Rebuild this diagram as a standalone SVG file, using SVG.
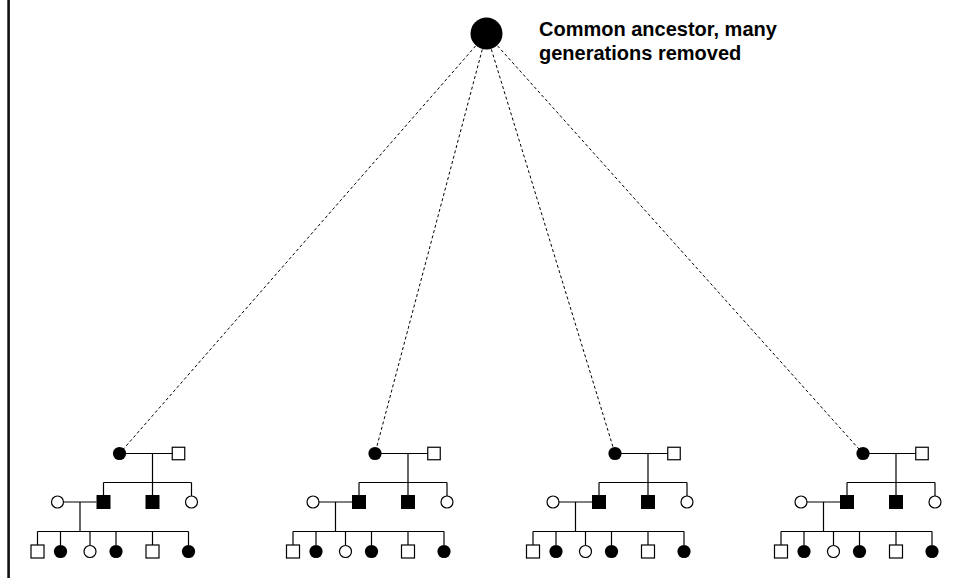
<svg xmlns="http://www.w3.org/2000/svg" width="954" height="578" viewBox="0 0 954 578">
<style>
.ln{stroke:#000;stroke-width:1.2;fill:none}
.dash{stroke:#000;stroke-width:1;fill:none;stroke-dasharray:3 2.5}
.fc{fill:#000}
.oc{fill:#fff;stroke:#000;stroke-width:1.2}
.fs{fill:#000}
.os{fill:#fff;stroke:#000;stroke-width:1.2}
.lbl{font-family:"Liberation Sans",Arial,sans-serif;font-weight:bold;font-size:20px;fill:#000}
</style>
<defs>
<g id="fam-lines">
<path class="ln" d="M0,453.5H53 M33,453.5V482.5 M-16,482.5H72 M-16,482.5V495 M33,482.5V495 M72,482.5V496 M-56,502H-23 M-39.5,502V531.5 M-82,531.5H69 M-82,531.5V545 M-59,531.5V545 M-29.5,531.5V545 M-3.5,531.5V545 M33,531.5V545 M69,531.5V545"/>
</g>
</defs>
<rect x="0" y="0" width="954" height="578" fill="#fff"/>
<line x1="8.6" y1="0" x2="8.6" y2="578" stroke="#111" stroke-width="2.6"/>
<g id="connectors">
<line class="dash" x1="486.5" y1="33.5" x2="119.5" y2="453.5"/>
<line class="dash" x1="486.5" y1="33.5" x2="375" y2="453.5"/>
<line class="dash" x1="486.5" y1="33.5" x2="615" y2="453.5"/>
<line class="dash" x1="486.5" y1="33.5" x2="863" y2="453.5"/>
<use href="#fam-lines" transform="translate(119.5,0)"/>
<use href="#fam-lines" transform="translate(375,0)"/>
<use href="#fam-lines" transform="translate(615,0)"/>
<use href="#fam-lines" transform="translate(863,0)"/>
</g>
<g id="ancestor"><circle class="fc" cx="486.5" cy="33.5" r="16"/></g>
<g id="ancestor-label">
<text class="lbl" x="539" y="36">Common ancestor, many</text>
<text class="lbl" x="539" y="60">generations removed</text>
</g>
<g id="family1" transform="translate(119.5,0)">
<g id="f1-g1-f"><circle class="fc" cx="0" cy="453.5" r="6.6"/></g>
<g id="f1-g1-m"><rect class="os" x="52.75" y="447.25" width="12.5" height="12.5"/></g>
<g id="f1-g2-spouse"><circle class="oc" cx="-62" cy="502" r="6"/></g>
<g id="f1-g2-m1"><rect class="fs" x="-23" y="495" width="14" height="14"/></g>
<g id="f1-g2-m2"><rect class="fs" x="26" y="495" width="14" height="14"/></g>
<g id="f1-g2-f"><circle class="oc" cx="72" cy="502" r="6"/></g>
<g id="f1-g3-1"><rect class="os" x="-88.5" y="545" width="13" height="13"/></g>
<g id="f1-g3-2"><circle class="fc" cx="-59" cy="551.5" r="6.6"/></g>
<g id="f1-g3-3"><circle class="oc" cx="-29.5" cy="551.5" r="6"/></g>
<g id="f1-g3-4"><circle class="fc" cx="-3.5" cy="551.5" r="6.6"/></g>
<g id="f1-g3-5"><rect class="os" x="26.5" y="545" width="13" height="13"/></g>
<g id="f1-g3-6"><circle class="fc" cx="69" cy="551.5" r="6.6"/></g>
</g>
<g id="family2" transform="translate(375,0)">
<g id="f2-g1-f"><circle class="fc" cx="0" cy="453.5" r="6.6"/></g>
<g id="f2-g1-m"><rect class="os" x="52.75" y="447.25" width="12.5" height="12.5"/></g>
<g id="f2-g2-spouse"><circle class="oc" cx="-62" cy="502" r="6"/></g>
<g id="f2-g2-m1"><rect class="fs" x="-23" y="495" width="14" height="14"/></g>
<g id="f2-g2-m2"><rect class="fs" x="26" y="495" width="14" height="14"/></g>
<g id="f2-g2-f"><circle class="oc" cx="72" cy="502" r="6"/></g>
<g id="f2-g3-1"><rect class="os" x="-88.5" y="545" width="13" height="13"/></g>
<g id="f2-g3-2"><circle class="fc" cx="-59" cy="551.5" r="6.6"/></g>
<g id="f2-g3-3"><circle class="oc" cx="-29.5" cy="551.5" r="6"/></g>
<g id="f2-g3-4"><circle class="fc" cx="-3.5" cy="551.5" r="6.6"/></g>
<g id="f2-g3-5"><rect class="os" x="26.5" y="545" width="13" height="13"/></g>
<g id="f2-g3-6"><circle class="fc" cx="69" cy="551.5" r="6.6"/></g>
</g>
<g id="family3" transform="translate(615,0)">
<g id="f3-g1-f"><circle class="fc" cx="0" cy="453.5" r="6.6"/></g>
<g id="f3-g1-m"><rect class="os" x="52.75" y="447.25" width="12.5" height="12.5"/></g>
<g id="f3-g2-spouse"><circle class="oc" cx="-62" cy="502" r="6"/></g>
<g id="f3-g2-m1"><rect class="fs" x="-23" y="495" width="14" height="14"/></g>
<g id="f3-g2-m2"><rect class="fs" x="26" y="495" width="14" height="14"/></g>
<g id="f3-g2-f"><circle class="oc" cx="72" cy="502" r="6"/></g>
<g id="f3-g3-1"><rect class="os" x="-88.5" y="545" width="13" height="13"/></g>
<g id="f3-g3-2"><circle class="fc" cx="-59" cy="551.5" r="6.6"/></g>
<g id="f3-g3-3"><circle class="oc" cx="-29.5" cy="551.5" r="6"/></g>
<g id="f3-g3-4"><circle class="fc" cx="-3.5" cy="551.5" r="6.6"/></g>
<g id="f3-g3-5"><rect class="os" x="26.5" y="545" width="13" height="13"/></g>
<g id="f3-g3-6"><circle class="fc" cx="69" cy="551.5" r="6.6"/></g>
</g>
<g id="family4" transform="translate(863,0)">
<g id="f4-g1-f"><circle class="fc" cx="0" cy="453.5" r="6.6"/></g>
<g id="f4-g1-m"><rect class="os" x="52.75" y="447.25" width="12.5" height="12.5"/></g>
<g id="f4-g2-spouse"><circle class="oc" cx="-62" cy="502" r="6"/></g>
<g id="f4-g2-m1"><rect class="fs" x="-23" y="495" width="14" height="14"/></g>
<g id="f4-g2-m2"><rect class="fs" x="26" y="495" width="14" height="14"/></g>
<g id="f4-g2-f"><circle class="oc" cx="72" cy="502" r="6"/></g>
<g id="f4-g3-1"><rect class="os" x="-88.5" y="545" width="13" height="13"/></g>
<g id="f4-g3-2"><circle class="fc" cx="-59" cy="551.5" r="6.6"/></g>
<g id="f4-g3-3"><circle class="oc" cx="-29.5" cy="551.5" r="6"/></g>
<g id="f4-g3-4"><circle class="fc" cx="-3.5" cy="551.5" r="6.6"/></g>
<g id="f4-g3-5"><rect class="os" x="26.5" y="545" width="13" height="13"/></g>
<g id="f4-g3-6"><circle class="fc" cx="69" cy="551.5" r="6.6"/></g>
</g>
</svg>
